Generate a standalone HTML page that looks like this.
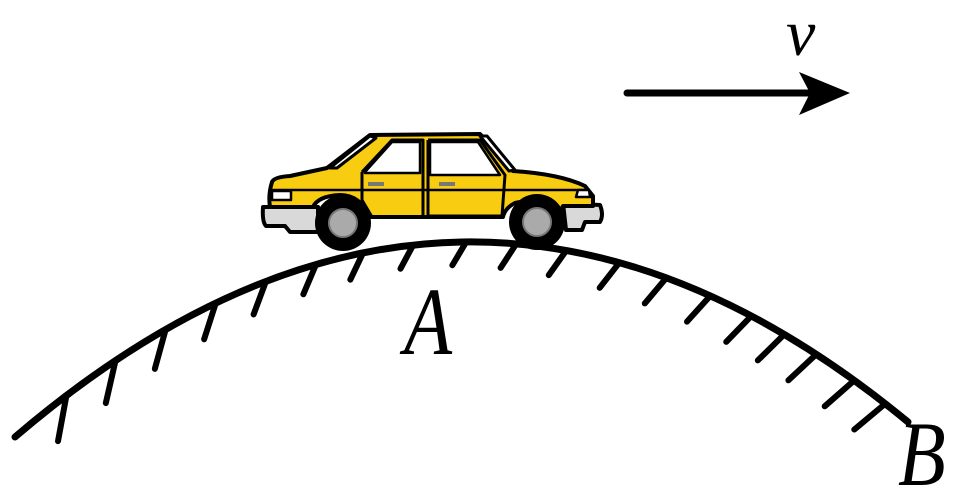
<!DOCTYPE html>
<html><head><style>
html,body{margin:0;padding:0;background:#fff;}
svg{display:block;}
</style></head><body>
<svg id="s" width="973" height="495" viewBox="0 0 973 495" xmlns="http://www.w3.org/2000/svg">
<g id="ticks" stroke="#000" stroke-width="6" stroke-linecap="round"></g>
<path d="M15,437 Q462.5,54.5 908,422" fill="none" stroke="#000" stroke-width="7" stroke-linecap="round"/>
<line x1="627" y1="93" x2="815" y2="93" stroke="#000" stroke-width="7" stroke-linecap="round"/>
<path d="M850,93 L799,72 L810,93 L799,115 Z" fill="#000"/>
<text x="786" y="55" font-family="Liberation Serif, serif" font-style="italic" font-size="66">v</text>
<text transform="translate(404,354) scale(0.82,1)" font-family="Liberation Serif, serif" font-style="italic" font-size="96">A</text>
<text transform="translate(898,485) scale(0.85,1)" font-family="Liberation Serif, serif" font-style="italic" font-size="92">B</text>
<g stroke="#000" stroke-width="4" stroke-linejoin="round">
<path d="M263,207 L318,207 L318,232 L290,232 L285,226 L266,226 Q262,222 263,207Z" fill="#d9d9d9"/>
<path d="M563,203 L600,205 Q604,215 600,222 L585,222 L582,230 L566,230Z" fill="#d9d9d9"/>
<path d="M272,182 Q274,177 290,176 L327,168 L370,135 L480,134 L513,171 Q560,174 585,186 L593,196 L593,206 L563,206 L560,212 Q540,197 515,203 Q505,208 503,217 L370,217 Q360,195 340,195 Q318,196 313,207 L270,207 Q268,195 272,182Z" fill="#f8cc10"/>
<path d="M330,168 L370,136 L376,138 L337,168Z" fill="#fff" stroke-width="3"/>
<path d="M480,136 L487,136 L515,170 L509,171Z" fill="#fff" stroke-width="3"/>
<path d="M365,172 L392,142 L420,142 L420,173 L365,173Z" fill="#fff" stroke-width="2.5"/>
<path d="M430,142 L478,142 L500,175 L430,175Z" fill="#fff" stroke-width="2.5"/>
<path d="M362,172 L392,140 L423,140 L423,216 M362,172 L362,200 L372,217 M428,140 L480,140 L505,175 L502,216 L428,216 L428,140" fill="none" stroke-width="3"/>
<line x1="272" y1="190" x2="590" y2="190" stroke-width="2.5"/>
<path d="M272,191 L291,191 L291,200 L272,200Z" fill="#fff" stroke-width="2.5"/>
<path d="M578,190 L589,190 L590,197 L576,197Z" fill="#fff" stroke-width="2.5"/>
</g>
<rect x="368" y="182" width="16" height="4" fill="#777"/>
<rect x="439" y="182" width="16" height="4" fill="#777"/>
<circle cx="343" cy="223" r="28" fill="#000"/>
<circle cx="343" cy="223" r="14" fill="#aaa" stroke="#777" stroke-width="2"/>
<circle cx="537" cy="222" r="28" fill="#000"/>
<circle cx="537" cy="222" r="14" fill="#aaa" stroke="#777" stroke-width="2"/>
</svg>
<script>
var xs=[66,115,165,215,265,315,362,412,465,515,565,618,665,709,750,783,815,853,884];
var g=document.getElementById('ticks'),h='';
function pt(t){var a=1-t;return [a*a*15+2*a*t*462.5+t*t*908,a*a*437+2*a*t*54.5+t*t*422];}
xs.forEach(function(x,i){
 var lo=0,hi=1;for(var k=0;k<40;k++){var m=(lo+hi)/2;if(pt(m)[0]<x)lo=m;else hi=m;}
 var p=pt(lo);var f=(x-66)/(884-66);
 var ang=(10+f*38)*Math.PI/180;var L=x<450?(46-(x-66)/384*22):(26+(x-450)/434*14);
 h+='<line x1="'+p[0]+'" y1="'+(p[1]+2)+'" x2="'+(p[0]-Math.sin(ang)*L)+'" y2="'+(p[1]+Math.cos(ang)*L)+'"/>';
});
g.innerHTML=h;
</script>
</body></html>
